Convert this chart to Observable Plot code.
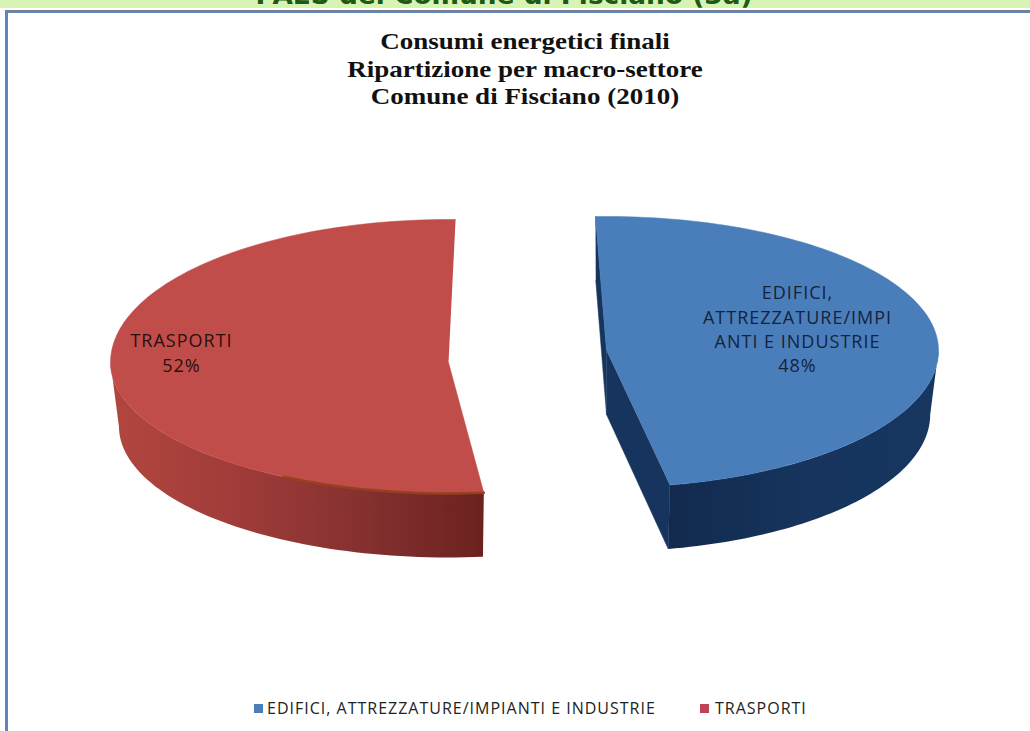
<!DOCTYPE html>
<html>
<head>
<meta charset="utf-8">
<script src="https://cdn.jsdelivr.net/npm/d3@7"></script>
<script src="https://cdn.jsdelivr.net/npm/@observablehq/plot@0.6"></script>
<style>
  html, body { margin: 0; padding: 0; background: #fff; overflow: hidden; width: 1030px; height: 731px; }
  #band { position: absolute; left: 0; top: 0; width: 1030px; height: 8px; background: #d8f4b4; overflow: hidden; }
  #band span { position: absolute; left: 0; width: 1008px; text-align: center; top: -18px; font: bold 26.4px/26px "DejaVu Sans"; color: #1d5a12; white-space: nowrap; }
  #frameTop { position: absolute; left: 5px; top: 10px; width: 1025px; height: 3px; background: #5f86b8; border-top: 1px solid #777f88; box-sizing: border-box; }
  #frameLeft { position: absolute; left: 5px; top: 10px; width: 3px; height: 721px; background: #5f86b8; }
  #title { position: absolute; left: 0; top: 28px; width: 1050px; text-align: center; font: bold 24px/27.5px "Liberation Serif"; color: #111; transform: scaleX(1.125); transform-origin: 525px 0; }
  #chart { position: absolute; left: 0; top: 112px; }
  #chart text { letter-spacing: 1px; }
  #legend { position: absolute; left: 0; top: 698px; width: 1030px; height: 20px; font: 16px/20px "Open Sans"; letter-spacing: 1px; color: #222; white-space: nowrap; }
  #legend i { position: absolute; top: 6px; width: 9px; height: 9px; }
  #legend span { position: absolute; top: 0; }
</style>
</head>
<body>
<div id="band"><span id="bandText"></span></div>
<div id="frameTop"></div>
<div id="frameLeft"></div>
<div id="title"></div>
<div id="chart"></div>
<div id="legend"></div>
<script>
// Data
const pageHeading = "PAES del Comune di Fisciano (3a)";
const titleLines = ["Consumi energetici finali", "Ripartizione per macro-settore", "Comune di Fisciano (2010)"];
const categories = ["EDIFICI, ATTREZZATURE/IMPIANTI E INDUSTRIE", "TRASPORTI"];
const shares = [48, 52];
const labelLines = [["EDIFICI,", "ATTREZZATURE/IMPI", "ANTI E INDUSTRIE"], ["TRASPORTI"]];

// Styling and 3-D projection settings
const topColours = ["#4a7ebb", "#c04d49"];
const legendColours = ["#4a7ebb", "#bf4257"];
const wallStops = [["#122a4e", "#16345d", "#173760"], ["#6b221f", "#853130", "#a03c39", "#b2463f"]];
const view = [
  {cx: 606, cy: 350, rx: 332, back: 134, front: 137, offset: -1.9, sweep: 0.989, labelX: 797, labelY: 293},
  {cx: 448, cy: 362, rx: 338, back: 143, front: 131, offset: 1.2, sweep: 1, labelX: 181, labelY: 341}
];
const depth = 64, rimShrink = 0.975, lineStep = 24.3;

document.getElementById("bandText").textContent = pageHeading;
document.getElementById("title").innerHTML = titleLines.join("<br>");

const arcs = d3.pie().sort(null)(shares);
const toDeg = r => r * 180 / Math.PI;

function project(v, t, lowered) {
  const rad = t * Math.PI / 180, c = Math.cos(rad), s = Math.sin(rad);
  const rx = lowered ? v.rx * rimShrink : v.rx;
  return {
    x: v.cx + rx * s,
    y: v.cy - (c > 0 ? v.back : v.front) * c + (lowered ? depth : 0)
  };
}
function centre(v, lowered) { return {x: v.cx, y: v.cy + (lowered ? depth : 0)}; }

const tops = [], walls = [[], []], cuts = [], rim = [], wallExtent = [];
arcs.forEach((a, i) => {
  const v = view[i];
  const a0 = v.offset + toDeg(a.startAngle) * v.sweep;
  const a1 = v.offset + toDeg(a.endAngle) * v.sweep;
  const angles = d3.range(0, 121).map(k => a0 + (a1 - a0) * k / 120);

  // Top face
  tops.push({...centre(v), id: i, fill: topColours[i]});
  angles.forEach(t => tops.push({...project(v, t), id: i, fill: topColours[i]}));

  // Outer wall: visible between 90 and 270 degrees of the circle
  const vis0 = Math.max(a0, 90), vis1 = Math.min(a1, 270);
  const vis = d3.range(0, 61).map(k => vis0 + (vis1 - vis0) * k / 60);
  vis.forEach(t => walls[i].push(project(v, t)));
  vis.slice().reverse().forEach(t => walls[i].push(project(v, t, true)));
  wallExtent[i] = d3.extent(walls[i], d => d.x);

  // Brownish rim on the front of the red slice
  if (i === 1) vis.slice(0, 23).forEach(t => rim.push(project(v, t)));

  // Cut faces, seen only on the blue slice
  if (i === 0) {
    [project(v, a0), centre(v), centre(v, true), project(v, a0, true)]
      .forEach(p => cuts.push({...p, id: "back", fill: wallStops[0][1]}));
    [centre(v), project(v, a1), project(v, a1, true), centre(v, true)]
      .forEach(p => cuts.push({...p, id: "front", fill: wallStops[0][1]}));
  }
});

const labels = [];
arcs.forEach((a, i) => {
  [...labelLines[i], `${shares[i]}%`].forEach((text, j) => labels.push({
    x: view[i].labelX, y: view[i].labelY + j * lineStep, text,
    fill: i === 0 ? "#14233c" : "#2a0f0c"
  }));
});

// Horizontal gradients for the two walls. The x scale is the identity on 0–1030.
function wallDefs() {
  const ns = "http://www.w3.org/2000/svg";
  const defs = document.createElementNS(ns, "defs");
  wallStops.forEach((stops, i) => {
    const g = document.createElementNS(ns, "linearGradient");
    g.setAttribute("id", `wall${i}`);
    g.setAttribute("gradientUnits", "userSpaceOnUse");
    const [lo, hi] = wallExtent[i];
    g.setAttribute("x1", i === 0 ? lo : hi);
    g.setAttribute("x2", i === 0 ? hi : lo);
    g.setAttribute("y1", 0);
    g.setAttribute("y2", 0);
    stops.forEach((c, k) => {
      const s = document.createElementNS(ns, "stop");
      s.setAttribute("offset", k / (stops.length - 1));
      s.setAttribute("stop-color", c);
      g.appendChild(s);
    });
    defs.appendChild(g);
  });
  return defs;
}

const plot = Plot.plot({
  width: 1030, height: 578,
  margin: 0, marginTop: 0, marginRight: 0, marginBottom: 0, marginLeft: 0,
  x: {domain: [0, 1030], range: [0, 1030], axis: null},
  y: {domain: [112, 690], range: [0, 578], axis: null},
  color: {type: "identity"},
  style: {background: "transparent"},
  marks: [
    wallDefs,
    Plot.line(cuts, {x: "x", y: "y", z: "id", fill: "fill", stroke: "fill", strokeWidth: 0.5}),
    Plot.line(walls[0], {x: "x", y: "y", fill: "url(#wall0)", stroke: "none"}),
    Plot.line(walls[1], {x: "x", y: "y", fill: "url(#wall1)", stroke: "none"}),
    Plot.line(tops, {x: "x", y: "y", z: "id", fill: "fill", stroke: "fill", strokeWidth: 0.5}),
    Plot.line(rim, {x: "x", y: "y", stroke: "#96401f", strokeWidth: 2.5}),
    Plot.text(labels, {x: "x", y: "y", text: "text", fill: "fill", fontFamily: "Open Sans", fontSize: 18})
  ]
});
document.getElementById("chart").appendChild(plot);

const legend = document.getElementById("legend");
const legendX = [[254, 267], [700, 715]];
categories.forEach((name, i) => {
  const sw = document.createElement("i");
  sw.style.left = legendX[i][0] + "px";
  sw.style.background = legendColours[i];
  const tx = document.createElement("span");
  tx.style.left = legendX[i][1] + "px";
  tx.textContent = name;
  legend.append(sw, tx);
});
</script>
</body>
</html>
